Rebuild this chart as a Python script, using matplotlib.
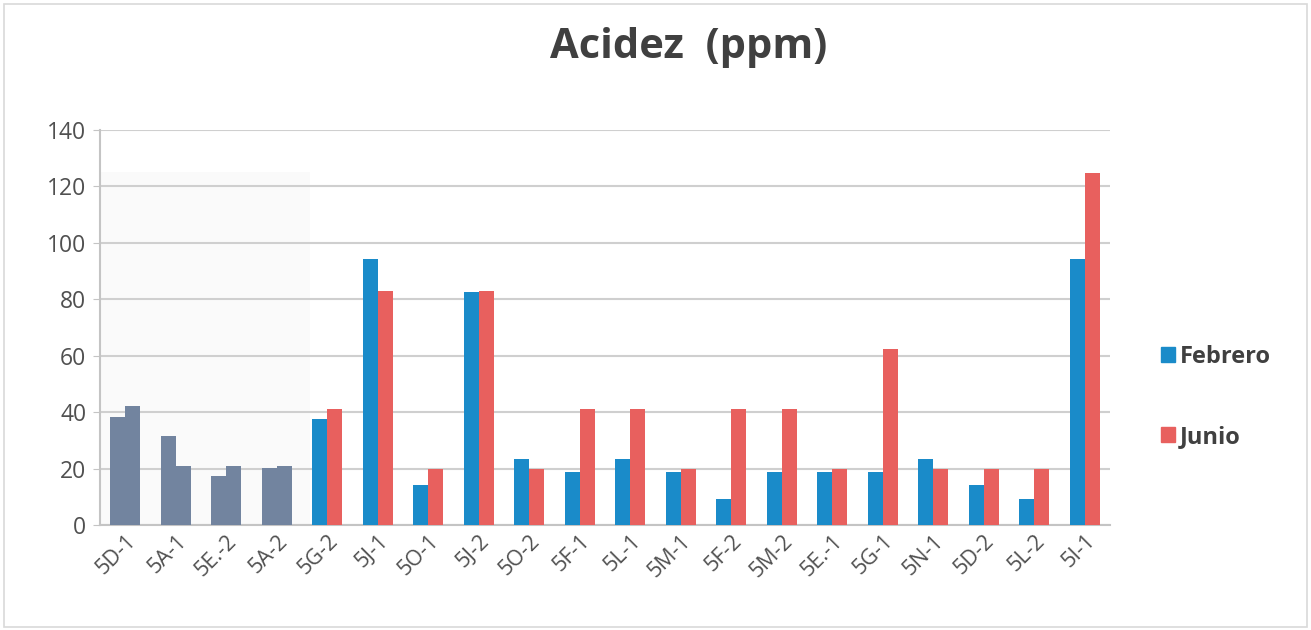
import matplotlib
matplotlib.use("Agg")
import matplotlib.pyplot as plt
from matplotlib.patches import Rectangle, Patch
import numpy as np

plt.rcParams['font.family'] = ['Open Sans', 'DejaVu Sans']

categories = ["5D-1", "5A-1", "5E.-2", "5A-2", "5G-2", "5J-1", "5O-1", "5J-2", "5O-2", "5F-1",
              "5L-1", "5M-1", "5F-2", "5M-2", "5E.-1", "5G-1", "5N-1", "5D-2", "5L-2", "5I-1"]
febrero = [38.4, 31.6, 17.4, 20.2, 37.6, 94.3, 14.0, 82.4, 23.5, 18.6,
           23.4, 18.6, 9.1, 18.6, 18.6, 18.6, 23.4, 14.0, 9.2, 94.3]
junio = [42.2, 21.0, 21.0, 21.0, 41.0, 83.0, 20.0, 83.0, 20.0, 41.0,
         41.0, 20.0, 41.0, 41.0, 20.0, 62.4, 20.0, 20.0, 20.0, 124.8]
y_ticks = [0, 20, 40, 60, 80, 100, 120, 140]
n_muted = 4  # first groups printed in a muted tone

BLUE = "#1a8bc9"
RED = "#e8605e"
MUTED = "#72849f"
TEXT = "#505050"

fig = plt.figure(figsize=(13.11, 6.30), dpi=100)
fig.patch.set_facecolor("white")
fig.add_artist(Rectangle((0.003, 0.004), 0.994, 0.99, transform=fig.transFigure,
                         fill=False, edgecolor="#d9d9d9", linewidth=1.2))

ax = fig.add_axes([0.0763, 0.1667, 0.7704, 0.6270])
x = np.arange(len(categories))
w = 0.3
feb_colors = [MUTED if i < n_muted else BLUE for i in range(len(categories))]
jun_colors = [MUTED if i < n_muted else RED for i in range(len(categories))]
ax.bar(x - w / 2, febrero, width=w, color=feb_colors, zorder=3)
ax.bar(x + w / 2, junio, width=w, color=jun_colors, zorder=3)

# very faint shaded panel behind the muted groups
ax.axvspan(-0.5, n_muted - 0.35, ymin=0, ymax=125 / 140, color="#fafafa", zorder=0, lw=0)

ax.set_xlim(-0.5, len(categories) - 0.5)
ax.set_ylim(0, 140)
ax.set_yticks(y_ticks)
ax.yaxis.grid(True, color="#cfcfcf", linewidth=1.5, zorder=1)
ax.set_axisbelow(True)
for s in ["top", "right"]:
    ax.spines[s].set_visible(False)
ax.spines["left"].set_color("#c4c4c4")
ax.spines["left"].set_linewidth(1.5)
ax.spines["bottom"].set_color("#c4c4c4")
ax.spines["bottom"].set_linewidth(1.5)
ax.tick_params(axis="y", length=5, color="#c4c4c4", labelsize=16.5, labelcolor=TEXT, pad=5)
ax.tick_params(axis="x", length=0, pad=4)
ax.set_xticks(x)
ax.set_xticklabels(categories, rotation=45, ha="right", va="top", rotation_mode="anchor",
                   fontsize=15.5, color=TEXT)

fig.text(0.525, 0.925, "Acidez  (ppm)", ha="center", va="center",
         fontsize=30, fontweight="bold", color="#404040")

handles = [Patch(color=BLUE, label="Febrero"), Patch(color=RED, label="Junio")]
leg = fig.legend(handles=handles, loc="center left", bbox_to_anchor=(0.869, 0.37),
                 frameon=False, handlelength=0.6, handleheight=0.6, handletextpad=0.2,
                 labelspacing=2.4, prop={"size": 17, "weight": "bold"})
for t in leg.get_texts():
    t.set_color("#404040")

fig.savefig("out.png", dpi=100)
